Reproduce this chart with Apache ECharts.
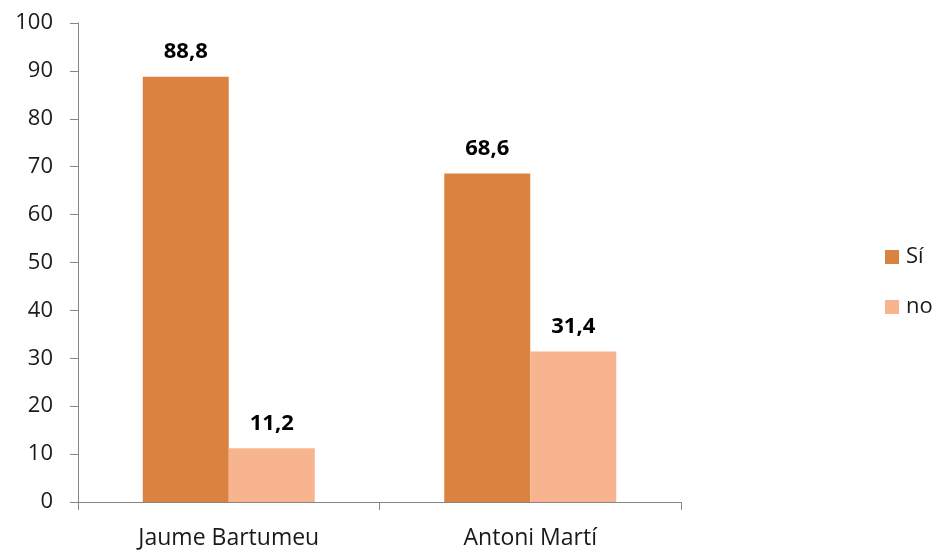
<!DOCTYPE html>
<html>
<head>
<meta charset="utf-8">
<script src="https://cdn.jsdelivr.net/npm/echarts@6/dist/echarts.min.js"></script>
<style>
  html, body { margin: 0; padding: 0; background: #fff; }
  #chart { width: 937px; height: 552px; }
</style>
</head>
<body>
<div id="chart"></div>
<script>
const categories = ['Jaume Bartumeu', 'Antoni Martí'];
const seriesNames = ['Sí', 'no'];
const siValues = [88.8, 68.6];
const noValues = [11.2, 31.4];
const yTicks = { min: 0, max: 100, interval: 10 };

const FONT = '"Open Sans", "Liberation Sans", sans-serif';
const AXIS_COLOR = '#868686';
const TEXT_COLOR = '#1a1a1a';

const fmt = v => String(v).replace('.', ',');

const labelStyle = {
  show: true,
  position: 'top',
  distance: 14,
  fontFamily: FONT,
  fontWeight: 'bold',
  fontSize: 22,
  color: '#000',
  formatter: p => fmt(p.value)
};

const chart = echarts.init(document.getElementById('chart'), null, { renderer: 'canvas' });
chart.setOption({
  animation: false,
  backgroundColor: '#fff',
  grid: { left: 78, right: 256, top: 23, bottom: 50, containLabel: false },
  legend: {
    orient: 'vertical',
    left: 885,
    top: 246,
    padding: 0,
    itemWidth: 14,
    itemHeight: 14,
    itemGap: 28,
    icon: 'rect',
    textStyle: { fontFamily: FONT, fontSize: 22, color: TEXT_COLOR, padding: [0, 0, 0, 2] },
    data: seriesNames
  },
  xAxis: {
    type: 'category',
    data: categories,
    axisLine: { lineStyle: { color: AXIS_COLOR, width: 1 } },
    axisTick: { show: true, length: 8, lineStyle: { color: AXIS_COLOR } },
    axisLabel: { fontFamily: FONT, fontSize: 23, color: TEXT_COLOR, margin: 25 }
  },
  yAxis: {
    type: 'value',
    min: yTicks.min,
    max: yTicks.max,
    interval: yTicks.interval,
    axisLine: { show: true, lineStyle: { color: AXIS_COLOR, width: 1 } },
    axisTick: { show: true, length: 8, lineStyle: { color: AXIS_COLOR } },
    splitLine: { show: false },
    axisLabel: { fontFamily: FONT, fontSize: 22, color: TEXT_COLOR, margin: 25 }
  },
  series: [
    {
      name: seriesNames[0],
      type: 'bar',
      data: siValues,
      barWidth: 86,
      barGap: '0%',
      itemStyle: { color: '#DA8341' },
      label: labelStyle
    },
    {
      name: seriesNames[1],
      type: 'bar',
      data: noValues,
      barWidth: 86,
      barGap: '0%',
      itemStyle: { color: '#F8B48E' },
      label: labelStyle
    }
  ]
});
</script>
</body>
</html>
